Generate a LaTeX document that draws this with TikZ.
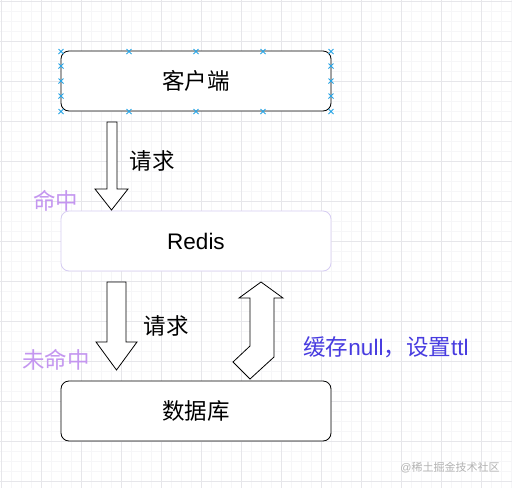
\documentclass[tikz,border=0pt]{standalone}
\usepackage{fontspec}
\setmainfont{Liberation Sans}
\newfontfamily\cjk{Noto Sans CJK SC}
\definecolor{lightA}{RGB}{214, 204, 242}
\definecolor{hitA}  {RGB}{196, 150, 240}
\definecolor{blueA} {RGB}{72,  60,  224}
\definecolor{gridA} {RGB}{230, 230, 234}
\definecolor{gridB} {RGB}{246, 246, 248}
\definecolor{handA} {RGB}{40,  165, 230}
\tikzset{
  box/.style={draw, rounded corners=8pt, line width=0.8pt, fill=white,
    minimum width=270pt, minimum height=60pt, font=\fontsize{22.5}{26}\selectfont},
  blockarrow/.style={draw, fill=white, line width=0.8pt, line join=miter},
  lbl/.style={font=\fontsize{22.5}{26}\selectfont, inner sep=0pt},
  handle/.style={draw=handA, line width=0.8pt}
}

\begin{document}
\begin{tikzpicture}[x=1pt, y=-1pt]
  \useasboundingbox (0,0) rectangle (512,488);
  \fill[white] (0,0) rectangle (512,488);

  % grid
  \foreach \gx in {11,21,...,511} \draw[gridB, line width=0.5pt] (\gx,0) -- (\gx,488);
  \foreach \gy in {11,21,...,481} \draw[gridB, line width=0.5pt] (0,\gy) -- (512,\gy);
  \foreach \gx in {1,41,...,511} \draw[gridA, line width=0.6pt] (\gx,0) -- (\gx,488);
  \foreach \gy in {1,41,...,481} \draw[gridA, line width=0.6pt] (0,\gy) -- (512,\gy);

  \node[box]               (client) at (196,81)  {\cjk 客户端};
  \node[box, draw=lightA]  (redis)  at (196,241) {Redis};
  \node[box]               (db)     at (196,411) {\cjk 数据库};

  % selection handles
  \foreach \hx in {61,129,196,263,331} {
    \draw[handle] (\hx-2.5,49) -- (\hx+2.5,54) (\hx-2.5,54) -- (\hx+2.5,49);
    \draw[handle] (\hx-2.5,109) -- (\hx+2.5,114) (\hx-2.5,114) -- (\hx+2.5,109);
  }
  \foreach \hy in {66,81,96} {
    \draw[handle] (58.5,\hy-2.5) -- (63.5,\hy+2.5) (58.5,\hy+2.5) -- (63.5,\hy-2.5);
    \draw[handle] (328.5,\hy-2.5) -- (333.5,\hy+2.5) (328.5,\hy+2.5) -- (333.5,\hy-2.5);
  }

  % request client -> redis
  \path[blockarrow] (107,122) -- (117,122) -- (117,189) -- (128,189)
    -- (111.5,210) -- (95,189) -- (107,189) -- cycle;
  \node[lbl] (askA) at (152,161) {\cjk 请求};
  \node[lbl, text=hitA] (hit) at (56,201) {\cjk 命中};

  % request redis -> db
  \path[blockarrow] (107,282) -- (126,282) -- (126,342) -- (137,342)
    -- (116.5,370) -- (96,342) -- (107,342) -- cycle;
  \node[lbl] (askB) at (166,326) {\cjk 请求};
  \node[lbl, text=hitA] (miss) at (56,360) {\cjk 未命中};

  % write back db -> redis
  \path[blockarrow] (261,282) -- (283,298) -- (274,298) -- (274,357)
    -- (250,379) -- (233,362) -- (250,346) -- (250,298) -- (239,298) -- cycle;
  \node[lbl, text=blueA] (cache) at (386,347) {{\cjk 缓存}null{\cjk ，设置}ttl};

  \node[inner sep=0pt, text=black!30, font=\fontsize{11}{13}\selectfont] (mark) at (450,468)
    {@{\cjk 稀土掘金技术社区}};
\end{tikzpicture}
\end{document}
